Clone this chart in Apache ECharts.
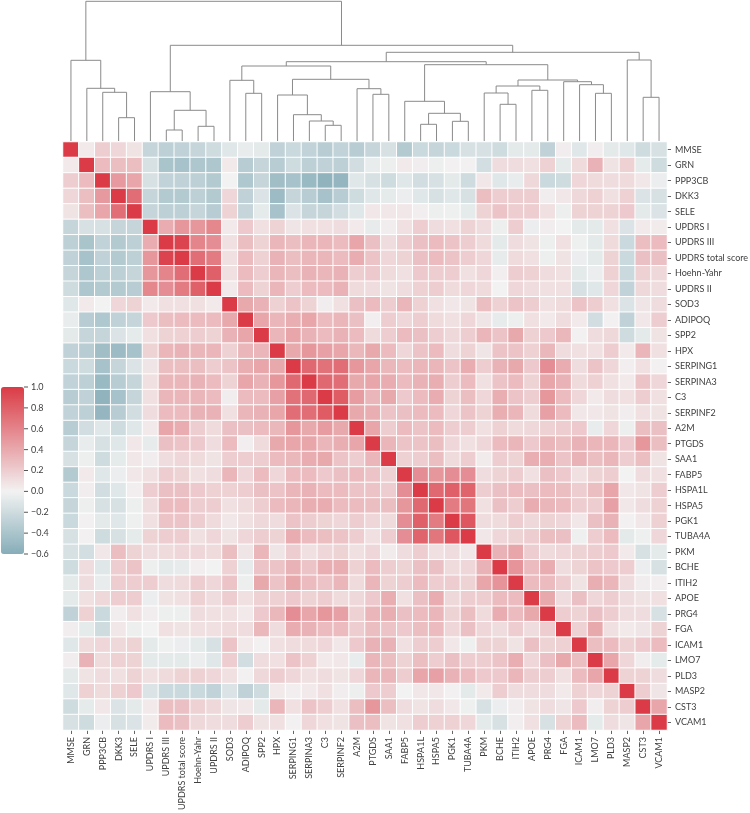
<!DOCTYPE html>
<html>
<head>
<meta charset="utf-8">
<style>html,body{margin:0;padding:0;background:#fff}#c{width:750px;height:813px}</style>
<script src="https://cdn.jsdelivr.net/npm/echarts@6/dist/echarts.min.js"></script>
</head>
<body>
<div id="c"></div>
<script>
const labels = ["MMSE","GRN","PPP3CB","DKK3","SELE","UPDRS I","UPDRS III","UPDRS total score","Hoehn-Yahr","UPDRS II","SOD3","ADIPOQ","SPP2","HPX","SERPING1","SERPINA3","C3","SERPINF2","A2M","PTGDS","SAA1","FABP5","HSPA1L","HSPA5","PGK1","TUBA4A","PKM","BCHE","ITIH2","APOE","PRG4","FGA","ICAM1","LMO7","PLD3","MASP2","CST3","VCAM1"];

// Upper triangle of the correlation matrix; each row starts at the diagonal.
const upperRows = [
[1,0.05,0.2,0.15,0.08,-0.25,-0.3,-0.28,-0.25,-0.2,-0.1,-0.05,-0.08,-0.28,-0.22,-0.27,-0.33,-0.27,-0.33,-0.25,-0.15,-0.35,-0.22,-0.25,-0.22,-0.15,-0.15,-0.2,-0.08,-0.08,-0.28,0.03,-0.1,0.03,-0.08,-0.1,-0.2,-0.15],
[1,0.3,0.28,0.28,-0.15,-0.4,-0.42,-0.38,-0.38,0.05,-0.33,-0.25,-0.33,-0.2,-0.3,-0.28,-0.3,-0.18,-0.05,-0.03,0.05,0.03,-0.03,0.01,0.01,-0.17,0.12,0.12,0.1,0.18,-0.07,0.13,0.35,0.08,0.18,-0.07,-0.2],
[1,0.48,0.42,-0.15,-0.27,-0.28,-0.3,-0.35,0,-0.37,-0.25,-0.45,-0.42,-0.5,-0.55,-0.52,-0.1,-0.15,-0.2,-0.1,-0.18,-0.15,-0.08,-0.2,0.06,-0.1,-0.05,0.14,-0.22,-0.2,0.15,0.13,0.12,0.13,0.06,-0.04],
[1,0.72,-0.25,-0.35,-0.35,-0.3,-0.35,0.15,-0.28,-0.13,-0.48,-0.25,-0.33,-0.42,-0.33,-0.2,-0.1,-0.07,-0.04,-0.1,-0.15,-0.1,-0.15,0.28,0.2,0.2,0.2,0.03,0.06,0.14,0.18,0.1,0.18,-0.13,-0.15],
[1,-0.25,-0.3,-0.3,-0.25,-0.33,0.17,-0.25,-0.07,-0.42,-0.13,-0.25,-0.25,-0.18,-0.1,0.06,0.06,0.06,0.02,-0.03,-0.02,-0.07,0.17,0.25,0.2,0.2,0.1,-0.03,0.17,0.17,0.17,0.22,-0.08,-0.13],
[1,0.38,0.5,0.5,0.58,0.05,0.22,0.1,0.17,0.07,0.1,0.1,0.12,0.05,-0.06,0.03,0.1,0.2,0.12,0.1,0.17,0.12,-0.03,0.2,-0.04,0.03,0,-0.08,-0.08,0.1,-0.13,0.05,0.04],
[1,0.95,0.6,0.55,0.1,0.28,0.17,0.33,0.28,0.33,0.33,0.3,0.42,0.27,0.12,0.2,0.27,0.3,0.25,0.2,0.13,-0.08,0.12,0.08,-0.03,0.1,-0.02,-0.08,0.13,-0.22,0.28,0.3],
[1,0.72,0.65,0.1,0.3,0.18,0.35,0.28,0.33,0.33,0.3,0.38,0.25,0.15,0.17,0.27,0.3,0.25,0.2,0.15,-0.06,0.13,0.1,-0.03,0.08,-0.04,-0.08,0.17,-0.22,0.27,0.27],
[1,0.8,0.1,0.3,0.2,0.33,0.28,0.35,0.33,0.35,0.2,0.22,0.13,0.1,0.22,0.2,0.2,0.1,0.15,0.02,0.2,0.18,0.12,0.1,-0.08,-0.04,0.18,-0.22,0.18,0.14],
[1,0.05,0.3,0.17,0.33,0.2,0.3,0.3,0.35,0.13,0.12,0.08,0.12,0.18,0.2,0.13,0.15,0.13,0,0.15,0.12,0.1,0.1,-0.15,-0.1,0.15,-0.27,0.14,0.12],
[1,0.4,0.35,0.18,0.25,0.17,0.03,0.1,0.27,0.3,0.2,0.33,0.18,0.1,0.06,0.08,0.28,0.18,0.25,0.2,0.1,0.13,0.25,0.2,0.1,-0.13,0.07,0.12],
[1,0.42,0.33,0.37,0.42,0.3,0.33,0.27,0.02,0.2,0.15,0.2,0.13,0.1,0.15,0.07,-0.06,-0.03,0.1,0.05,0.12,0.05,-0.18,0.01,-0.28,0.06,0.2],
[1,0.33,0.42,0.35,0.3,0.35,0.3,0.13,0.2,0.3,0.27,0.2,0.14,0.2,0.33,0.25,0.4,0.18,0.22,0.32,0.01,0.12,0.14,-0.2,-0.08,0.08],
[1,0.4,0.5,0.45,0.42,0.32,0.4,0.3,0.15,0.25,0.3,0.12,0.17,0.07,0.25,0.25,0.18,0.32,0.12,0.1,0.1,0.2,0.05,0.33,0.1],
[1,0.75,0.7,0.72,0.5,0.42,0.32,0.3,0.33,0.33,0.25,0.38,0.2,0.35,0.4,0.22,0.55,0.38,0.12,0.25,0.15,0.02,0.1,0.01],
[1,0.75,0.72,0.4,0.42,0.38,0.3,0.35,0.37,0.2,0.3,0.1,0.25,0.3,0.17,0.42,0.35,0.13,0.18,0.1,0.05,0.25,0.15],
[1,0.82,0.47,0.33,0.4,0.22,0.3,0.38,0.17,0.28,0.15,0.37,0.25,0.2,0.5,0.3,0.15,0.05,0.12,0.1,0.2,0.1],
[1,0.4,0.37,0.25,0.27,0.3,0.3,0.15,0.25,0.17,0.37,0.33,0.13,0.45,0.3,0.06,0.06,0.08,0.03,0.1,0.08],
[1,0.42,0.2,0.3,0.25,0.3,0.2,0.2,0.1,0.18,0.13,0.14,0.18,0.2,0.22,-0.05,0.15,-0.03,0.28,0.27],
[1,0.33,0.25,0.25,0.28,0.15,0.1,0.15,0.3,0.33,0.22,0.33,0.28,0.35,0.33,0.33,0.22,0.5,0.28],
[1,0.18,0.2,0.28,0.13,0.2,0.04,0.2,0.17,0.37,0.37,0.25,0.35,0.28,0.33,0.2,0.28,0.08],
[1,0.55,0.5,0.55,0.55,0.12,0.17,0.2,0.1,0.27,0.22,0.1,0.17,0.2,0,0.12,0.1],
[1,0.75,0.8,0.78,0.2,0.27,0.3,0.27,0.3,0.28,0.2,0.28,0.42,0.06,0.08,0.2],
[1,0.65,0.68,0.1,0.27,0.2,0.38,0.33,0.3,0.2,0.2,0.45,0.06,0.12,0.18],
[1,0.85,0.12,0.13,0.2,0.14,0.17,0.15,0.06,0.27,0.35,0.01,0.06,0.18],
[1,0.06,0.15,0.17,0.2,0.28,0.27,-0.02,0.2,0.3,-0.08,-0.02,0.15],
[1,0.35,0.42,0.2,0.13,0.15,0.17,0.2,0.22,0.05,-0.15,-0.08],
[1,0.52,0.3,0.38,0.12,0.17,0.25,0.22,0.2,-0.04,-0.15],
[1,0.3,0.3,0.2,0.08,0.37,0.33,0.12,0.03,0.02],
[1,0.4,0.12,0.27,0.15,0.2,0.12,0.08,0.1],
[1,0.2,0.17,0.27,0.2,0.12,0.12,-0.15],
[1,0.18,0.4,0.1,0.05,0.07,0.17],
[1,0.28,0.3,0.18,0.22,0.3],
[1,0.42,0.15,0.03,-0.07],
[1,0.17,0.17,0.12],
[1,0.2,0.07],
[1,0.42],
[1]
];

// Dendrogram merges: [child A, child B, merge height]. 0-37 = leaves; 38+ = merges, in order.
const merges = [
[3,4,23.3],      // 38
[2,38,48.7],     // 39
[1,39,52.7],     // 40
[0,40,80.7],     // 41
[6,7,11],        // 42
[8,9,14.7],      // 43
[42,43,30.7],    // 44
[5,44,49.3],     // 45
[11,12,47.7],    // 46
[10,46,60.7],    // 47
[16,17,15.7],    // 48
[15,48,20],      // 49
[14,49,26.3],    // 50
[13,50,46],      // 51
[19,20,46.7],    // 52
[18,52,52.3],    // 53
[51,53,61.7],    // 54
[47,54,75],      // 55
[22,23,16.7],    // 56
[24,25,19.7],    // 57
[56,57,27.7],    // 58
[21,58,39.7],    // 59
[27,28,36.7],    // 60
[26,60,48],      // 61
[29,30,50.7],    // 62
[61,62,55],      // 63
[33,34,47.7],    // 64
[32,64,56.3],    // 65
[31,65,59.3],    // 66
[63,66,61],      // 67
[59,67,76.3],    // 68
[55,68,79.3],    // 69
[36,37,43.7],    // 70
[35,70,81],      // 71
[69,71,88.7],    // 72
[45,72,95.7],    // 73
[41,73,139.7]    // 74
];

const colorbarTicks = {min: -0.6, max: 1, interval: 0.2};
const colorbarTickValues = [-0.6,-0.4,-0.2,0,0.2,0.4,0.6,0.8,1];
const colorStops = ['#87adb9','#aac4cc','#cedbdf','#f2f2f2','#edcdd0','#e8a9ad','#e4848b','#df6068','#da3b46'];

const cells = [];
upperRows.forEach((row, i) => row.forEach((v, k) => {
  const j = i + k;
  cells.push([j, i, v]);
  if (j !== i) cells.push([i, j, v]);
}));

const nodePos = labels.map((_, i) => [i + 0.5, 0]);
const links = merges.map(([a, b, h]) => {
  const pa = nodePos[a], pb = nodePos[b];
  const xa = Math.min(pa[0], pb[0]) === pa[0] ? pa : pb;
  const xb = xa === pa ? pb : pa;
  nodePos.push([(pa[0] + pb[0]) / 2, h]);
  return [xa[0], xa[1], xb[0], xb[1], h];
});

const font = 'Lato';
const textColor = '#404040';
const chart = echarts.init(document.getElementById('c'), null, {renderer: 'canvas'});
chart.setOption({
  animation: false,
  backgroundColor: '#fff',
  grid: [
    {left: 63, top: 142, width: 604, height: 588, outerBoundsMode: 'none'},
    {left: 63, top: 1, width: 604, height: 140, outerBoundsMode: 'none'},
    {left: 1, top: 387, width: 23, height: 167, outerBoundsMode: 'none'}
  ],
  xAxis: [
    {type: 'category', gridIndex: 0, data: labels, position: 'bottom',
     axisLine: {show: false}, splitLine: {show: false}, splitArea: {show: false},
     axisTick: {show: true, alignWithLabel: true, length: 4, lineStyle: {color: '#666', width: 1}},
     axisLabel: {rotate: 90, interval: 0, fontFamily: font, fontSize: 9, color: textColor, margin: 7}},
    {type: 'value', gridIndex: 1, min: 0, max: 38, show: false},
    {type: 'value', gridIndex: 2, min: 0, max: 1, show: false}
  ],
  yAxis: [
    {type: 'category', gridIndex: 0, data: labels, inverse: true, position: 'right',
     axisLine: {show: false}, splitLine: {show: false}, splitArea: {show: false},
     axisTick: {show: true, alignWithLabel: true, length: 4, lineStyle: {color: '#666', width: 1}},
     axisLabel: {interval: 0, fontFamily: font, fontSize: 9, color: textColor, margin: 8}},
    {type: 'value', gridIndex: 1, min: 0, max: 140, show: false},
    {type: 'value', gridIndex: 2, position: 'right', z: 20,
     min: colorbarTicks.min, max: colorbarTicks.max, interval: colorbarTicks.interval,
     axisLine: {show: false, onZero: false}, splitLine: {show: false},
     axisTick: {show: false},
     axisLabel: {fontFamily: font, fontSize: 9, color: textColor, margin: 7,
       formatter: v => (+v).toFixed(1).replace('-', '\u2212')}}
  ],
  visualMap: {
    type: 'continuous', seriesIndex: 0, show: true, calculable: false, realtime: false,
    min: colorbarTicks.min, max: colorbarTicks.max, orient: 'vertical',
    left: 1, top: 387, itemWidth: 23, itemHeight: 167, padding: 0,
    inRange: {color: colorStops}
  },
  series: [
    {type: 'heatmap', xAxisIndex: 0, yAxisIndex: 0, data: cells, progressive: 0,
     itemStyle: {borderColor: '#fff', borderWidth: 1},
     emphasis: {disabled: true}},
    {type: 'custom', xAxisIndex: 1, yAxisIndex: 1, data: links, silent: true, clip: false,
     encode: {x: [0, 2], y: [1, 3, 4]},
     renderItem: (params, api) => {
       const p = [
         api.coord([api.value(0), api.value(1)]),
         api.coord([api.value(0), api.value(4)]),
         api.coord([api.value(2), api.value(4)]),
         api.coord([api.value(2), api.value(3)])
       ];
       return {type: 'polyline', shape: {points: p},
         style: {stroke: '#8a8a8a', lineWidth: 1, fill: 'none'}};
     }},
    {type: 'custom', xAxisIndex: 2, yAxisIndex: 2, data: colorbarTickValues.map(v => [1, v]), silent: true, clip: false, z: 30,
     encode: {x: 0, y: 1},
     renderItem: (params, api) => {
       const a = api.coord([api.value(0), api.value(1)]);
       return {type: 'line', z2: 100,
         shape: {x1: a[0], y1: a[1], x2: a[0] + 4, y2: a[1]},
         style: {stroke: '#555', lineWidth: 1}};
     }}
  ]
});
</script>
</body>
</html>
